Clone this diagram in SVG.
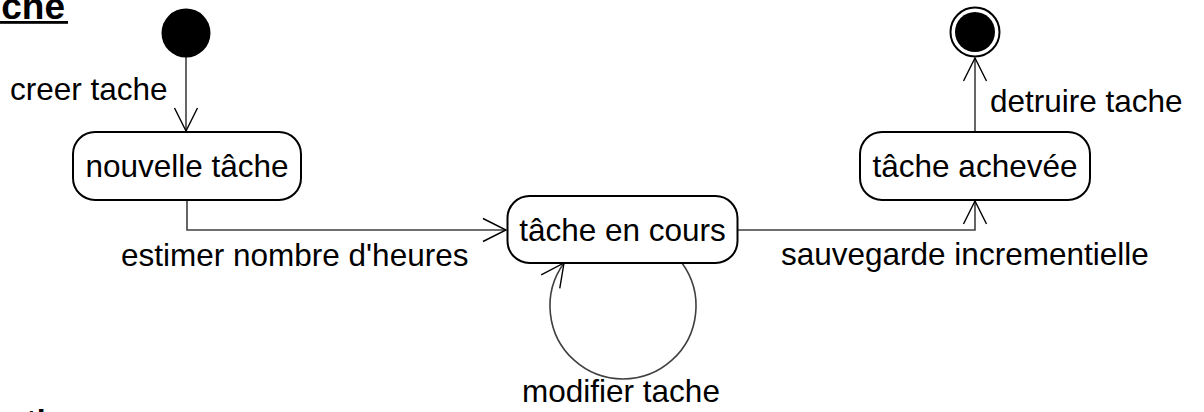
<svg xmlns="http://www.w3.org/2000/svg" width="1204" height="412" viewBox="0 0 1204 412">
  <style>
    .lbl { font-family: "Liberation Sans", Arial, sans-serif; font-size: 31.5px; fill: #000; }
    .ttl { font-family: "Liberation Sans", Arial, sans-serif; font-size: 34px; font-weight: bold; fill: #000; }
    .state { fill: #fff; stroke: #000; stroke-width: 2; }
    .conn { fill: none; stroke: #404040; stroke-width: 1.6; }
  </style>
  <defs>
    <marker id="open" markerUnits="userSpaceOnUse" markerWidth="30" markerHeight="30" viewBox="-26 -15 30 30" refX="0" refY="0" orient="auto">
      <path d="M -23 -11.5 L 0 0 L -23 11.5" fill="none" stroke="#000" stroke-width="1.4"/>
    </marker>
  </defs>
  <rect width="1204" height="412" fill="#fff"/>

  <g id="title">
    <text class="ttl" x="65" y="18.5" text-anchor="end" style="font-size:37px">che</text>
    <rect x="0" y="21" width="68" height="2.8" fill="#000"/>
  </g>
  <g id="bottom-title">
    <text class="ttl" x="26" y="432" style="font-size:32px">ti</text>
  </g>

  <g id="connectors">
    <path class="conn" d="M 186 57 L 186 131" marker-end="url(#open)"/>
    <path class="conn" d="M 187 200 L 187 230 L 506 230" marker-end="url(#open)"/>
    <path class="conn" d="M 682 263 A 73 73 0 1 1 564 263" marker-end="url(#open)"/>
    <path class="conn" d="M 738 230 L 975 230 L 975 201" marker-end="url(#open)"/>
    <path class="conn" d="M 975 132 L 975 58" marker-end="url(#open)"/>
  </g>

  <g id="initial">
    <circle cx="186" cy="33" r="24.5" fill="#000"/>
  </g>

  <g id="final">
    <circle cx="975" cy="32" r="24.5" fill="#fff" stroke="#000" stroke-width="2"/>
    <circle cx="975" cy="32" r="20" fill="#000"/>
  </g>

  <g id="nouvelle-tache">
    <rect class="state" x="73" y="132" width="228" height="68" rx="22" ry="22"/>
    <text class="lbl" x="187" y="177" text-anchor="middle">nouvelle tâche</text>
  </g>

  <g id="tache-en-cours">
    <rect class="state" x="507.5" y="196" width="230" height="67" rx="22" ry="22"/>
    <text class="lbl" x="622.5" y="240.5" text-anchor="middle">tâche en cours</text>
  </g>

  <g id="tache-achevee">
    <rect class="state" x="860" y="132" width="230" height="68" rx="22" ry="22"/>
    <text class="lbl" x="975" y="177" text-anchor="middle">tâche achevée</text>
  </g>

  <g id="labels">
    <text class="lbl" x="10" y="100">creer tache</text>
    <text class="lbl" x="121" y="266">estimer nombre d'heures</text>
    <text class="lbl" x="621" y="402" text-anchor="middle">modifier tache</text>
    <text class="lbl" x="781" y="265">sauvegarde incrementielle</text>
    <text class="lbl" x="990" y="112">detruire tache</text>
  </g>
</svg>
